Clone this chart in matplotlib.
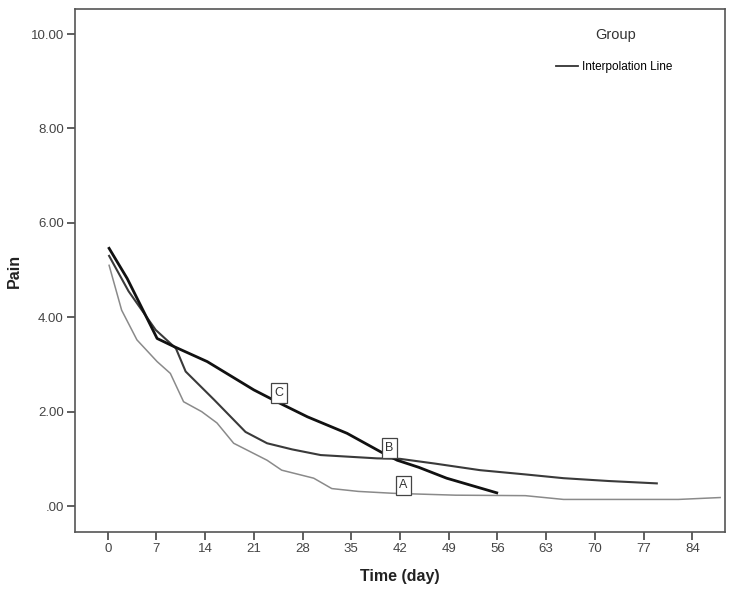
import matplotlib
matplotlib.use("Agg")
import matplotlib.pyplot as plt
from matplotlib.lines import Line2D

plt.rcParams['font.family'] = ['Liberation Sans', 'DejaVu Sans']

# Data
a_days = [0.2, 2.0, 4.2, 7.1, 9.0, 10.9, 13.5, 15.7, 18.1, 22.9, 25.0, 29.6, 32.2, 36.0, 41.0, 50.0, 60.0, 65.5, 75.0, 82.0, 88.0]
a_pain = [5.10, 4.15, 3.52, 3.06, 2.81, 2.21, 2.00, 1.76, 1.33, 0.97, 0.76, 0.59, 0.37, 0.31, 0.27, 0.23, 0.22, 0.14, 0.14, 0.14, 0.18]

b_days = [0.2, 3.0, 6.9, 9.8, 11.2, 15.3, 19.8, 22.9, 26.5, 30.6, 38.7, 42.0, 47.0, 53.5, 60.0, 65.5, 72.0, 78.9]
b_pain = [5.30, 4.55, 3.73, 3.34, 2.85, 2.25, 1.57, 1.33, 1.20, 1.08, 1.01, 1.00, 0.90, 0.76, 0.67, 0.59, 0.53, 0.48]

c_days = [0.2, 2.8, 7.1, 9.5, 14.3, 21.0, 24.3, 28.7, 34.4, 39.2, 41.6, 44.7, 48.7, 55.9]
c_pain = [5.46, 4.82, 3.55, 3.38, 3.06, 2.46, 2.21, 1.89, 1.54, 1.15, 0.97, 0.82, 0.59, 0.28]

label_names = ['A', 'B', 'C']
label_days = [42.5, 40.5, 24.6]
label_pain = [0.44, 1.23, 2.40]

x_ticks = [0, 7, 14, 21, 28, 35, 42, 49, 56, 63, 70, 77, 84]
y_ticks = [0, 2, 4, 6, 8, 10]
y_tick_labels = ['.00', '2.00', '4.00', '6.00', '8.00', '10.00']

W, H = 729, 593
fig = plt.figure(figsize=(W/100, H/100), dpi=100)
ax = fig.add_axes([75/W, 1-532/H, 650/W, 523/H])

ax.plot(a_days, a_pain, color='#8a8a8a', lw=1.1)
ax.plot(b_days, b_pain, color='#3a3a3a', lw=1.5)
ax.plot(c_days, c_pain, color='#111111', lw=2.0)

for name, d, p in zip(label_names, label_days, label_pain):
    ax.text(d, p, name, ha='center', va='center', fontsize=9, color='#333333',
            bbox=dict(boxstyle='square,pad=0.3', fc='white', ec='#444444', lw=0.9))

ax.set_xlim(-4.7, 88.7)
ax.set_ylim(-0.55, 10.53)
ax.set_xticks(x_ticks)
ax.set_xticklabels([str(t) for t in x_ticks])
ax.set_yticks(y_ticks)
ax.set_yticklabels(y_tick_labels)
ax.tick_params(direction='out', length=6, width=1.2, labelsize=9.5, colors='#444444', pad=2)
for s in ax.spines.values():
    s.set_color('#555555')
    s.set_linewidth(1.2)

ax.set_xlabel('Time (day)', fontsize=11.5, fontweight='bold', color='#222222', labelpad=10)
ax.set_ylabel('Pain', fontsize=11.5, fontweight='bold', color='#222222', labelpad=6)

fig.text(616/W, 1-35/H, 'Group', ha='center', va='center', fontsize=10.5, color='#333333')
handle = [Line2D([], [], color='#333333', lw=1.3)]
ax.legend(handle, ['Interpolation Line'], loc='center left',
          bbox_to_anchor=((556-75)/650, 1-(67-9)/523), frameon=False, fontsize=8.5,
          handlelength=1.9, handletextpad=0.3, borderpad=0, borderaxespad=0)

fig.savefig('out.png', dpi=100)
